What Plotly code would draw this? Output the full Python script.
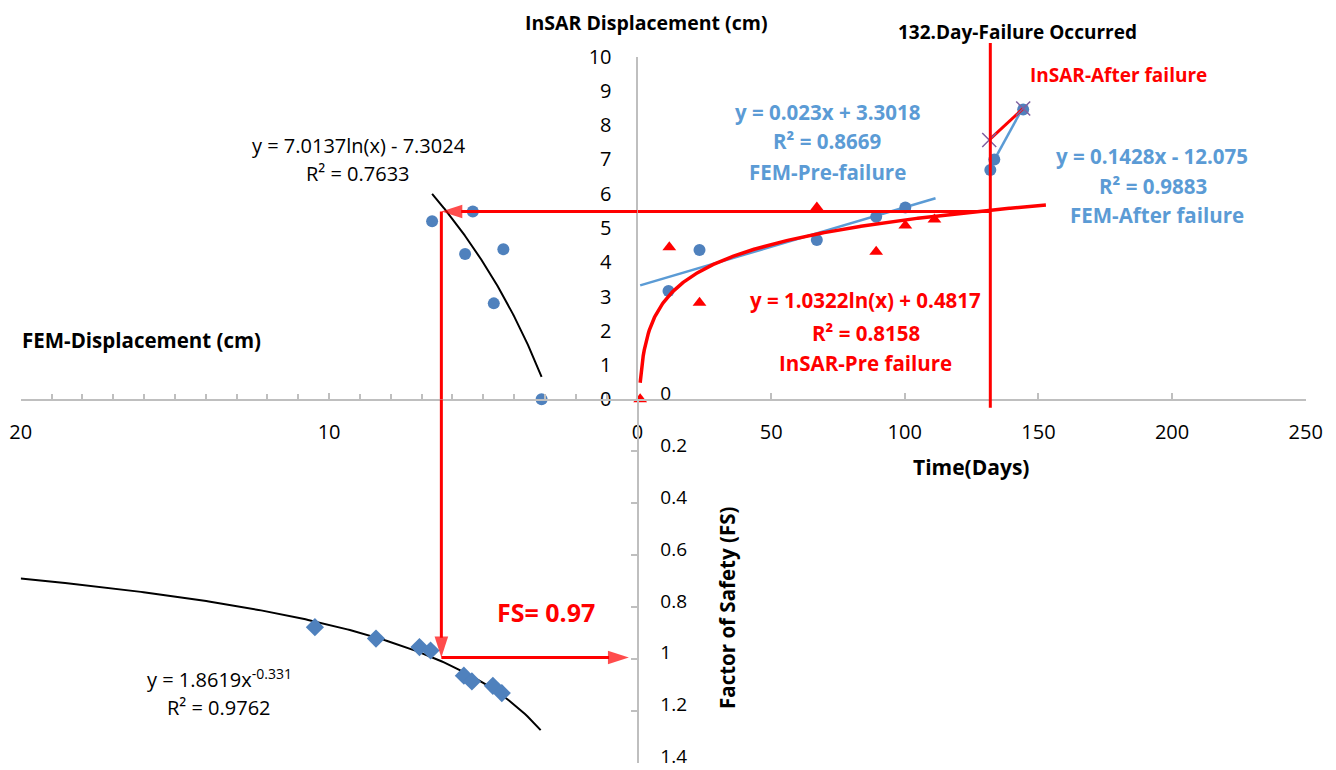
import numpy as np
import plotly.graph_objects as go

W, H = 1336, 770

# ---------------- data ----------------
# Top-left panel: FEM displacement (cm, left axis) vs InSAR displacement (cm)
fem_disp_cm = [6.66, 5.34, 5.59, 4.35, 4.66, 3.11]
insar_disp_cm = [5.20, 5.48, 4.24, 4.38, 2.80, 0.0]

# Bottom-left panel: FEM displacement (cm) vs Factor of Safety
fs_disp_cm = [10.46, 8.48, 7.07, 6.71, 5.63, 5.37, 4.69, 4.40]
fs_values = [0.878, 0.922, 0.955, 0.968, 1.065, 1.087, 1.104, 1.132]

# Right panel: time series (days vs displacement cm)
fem_pre_days = [11.6, 23.2, 67.1, 89.3, 100.2]
fem_pre_disp = [3.16, 4.36, 4.65, 5.33, 5.60]
insar_pre_days = [1, 11.9, 23.2, 67.1, 89.3, 100.2, 111.1]
insar_pre_disp = [0.0, 4.44, 2.82, 5.60, 4.31, 5.07, 5.25]
fem_after_days = [132.0, 133.5, 144.3]
fem_after_disp = [6.69, 7.00, 8.46]
insar_after_days = [131.6, 144.3]
insar_after_disp = [7.57, 8.49]

failure_day = 132
target_disp = 5.48      # displacement at failure day
target_fem_cm = 6.36    # FEM displacement matching it
target_fs = 0.995       # arrow level on FS axis
fs_arrow_end_cm = 0.28

# trendline coefficients (equations printed on the chart)
fem_log_a, fem_log_b = 7.0137, -7.3024
fs_pow_a, fs_pow_b = 1.8619, -0.331
fem_lin_a, fem_lin_b = 0.023, 3.3018
fem_after_a, fem_after_b = 0.1428, -12.075
insar_log_a, insar_log_b = 1.0322, 0.4817
# drawn x-extent of each trendline
fem_log_span = [3.11, 6.66]
fs_pow_span = [3.14, 20]
fem_lin_span = [1, 111.5]
insar_log_span = [1, 152.8]
fem_after_span = [132.0, 144.3]

x_right_ticks = [0, 50, 100, 150, 200, 250]
x_left_ticks = [20, 10]          # the shared "0" is drawn by the right axis
y_top_ticks = list(range(0, 11))
y_fs_ticks = [0, 0.2, 0.4, 0.6, 0.8, 1, 1.2, 1.4]

# ---------------- styles ----------------
FONT = "Open Sans"
AX = "#BFBFBF"
BLUE_PT = "#4F81BD"
BLUE_TXT = "#5B9BD5"
RED = "#FF0000"

fig = go.Figure()

def curve(span, f, n=200):
    xs = np.linspace(span[0], span[1], n)
    return xs, f(xs)

# trendlines
xs, ys = curve(fem_log_span, lambda x: fem_log_a * np.log(x) + fem_log_b)
fig.add_trace(go.Scatter(x=xs, y=ys, xaxis="x2", yaxis="y", mode="lines",
                         line=dict(color="black", width=2)))
xs, ys = curve(fs_pow_span, lambda x: fs_pow_a * np.power(x, fs_pow_b))
fig.add_trace(go.Scatter(x=xs, y=ys, xaxis="x2", yaxis="y2", mode="lines",
                         line=dict(color="black", width=2)))
xs, ys = curve(fem_lin_span, lambda x: fem_lin_a * x + fem_lin_b)
fig.add_trace(go.Scatter(x=xs, y=ys, xaxis="x", yaxis="y", mode="lines",
                         line=dict(color=BLUE_TXT, width=2.5)))
xs, ys = curve(fem_after_span, lambda x: fem_after_a * x + fem_after_b)
fig.add_trace(go.Scatter(x=xs, y=ys, xaxis="x", yaxis="y", mode="lines",
                         line=dict(color=BLUE_TXT, width=2.5)))

# markers
fig.add_trace(go.Scatter(x=fem_disp_cm, y=insar_disp_cm, xaxis="x2", yaxis="y",
                         mode="markers", cliponaxis=False,
                         marker=dict(color=BLUE_PT, size=12, symbol="circle")))
fig.add_trace(go.Scatter(x=fs_disp_cm, y=fs_values, xaxis="x2", yaxis="y2",
                         mode="markers", cliponaxis=False,
                         marker=dict(color=BLUE_PT, size=14, symbol="diamond")))
fig.add_trace(go.Scatter(x=fem_pre_days, y=fem_pre_disp, xaxis="x", yaxis="y",
                         mode="markers", marker=dict(color=BLUE_PT, size=12)))
fig.add_trace(go.Scatter(x=fem_after_days, y=fem_after_disp, xaxis="x", yaxis="y",
                         mode="markers", marker=dict(color=BLUE_PT, size=12)))
fig.add_trace(go.Scatter(x=insar_pre_days, y=insar_pre_disp, xaxis="x", yaxis="y",
                         mode="markers", cliponaxis=False,
                         marker=dict(color=RED, size=12, symbol="triangle-up")))
fig.add_trace(go.Scatter(x=insar_after_days, y=insar_after_disp, xaxis="x", yaxis="y",
                         mode="lines+markers",
                         line=dict(color=RED, width=3),
                         marker=dict(color="#7F60A0", size=14, symbol="x-thin-open",
                                     line=dict(color="#7F60A0", width=1.5))))

# red log trendline (on top)
xs, ys = curve(insar_log_span, lambda x: insar_log_a * np.log(x) + insar_log_b, 400)
fig.add_trace(go.Scatter(x=xs, y=ys, xaxis="x", yaxis="y", mode="lines",
                         line=dict(color=RED, width=3.5)))

# red guide path: failure level -> FEM curve -> FS axis (arrowheads as markers)
def guide(xv, yv, xa, ya, arrow=False):
    kw = dict(x=xv, y=yv, xaxis=xa, yaxis=ya, line=dict(color=RED, width=3), cliponaxis=False)
    if arrow:
        kw.update(mode="lines+markers",
                  marker=dict(symbol=["circle", "arrow"], size=[0, 22], color=RED,
                              angleref="previous", line=dict(width=0)))
    else:
        kw.update(mode="lines")
    fig.add_trace(go.Scatter(**kw))

guide([0, failure_day], [target_disp, target_disp], "x", "y")
guide([0, target_fem_cm], [target_disp, target_disp], "x2", "y", arrow=True)
guide([target_fem_cm, target_fem_cm], [target_disp, 0], "x2", "y")
guide([target_fem_cm, target_fem_cm], [0, target_fs], "x2", "y2", arrow=True)
guide([target_fem_cm, fs_arrow_end_cm], [target_fs, target_fs], "x2", "y2", arrow=True)

# failure day vertical line
fig.add_shape(type="line", xref="x", yref="y domain", x0=failure_day, x1=failure_day,
              y0=-0.025, y1=1.04, line=dict(color=RED, width=3))

annotations = []

def txt(s, xpx, ypx, color="black", size=20, bold=False, angle=0):
    t = f"<b>{s}</b>" if bold else s
    annotations.append(dict(text=t, x=xpx / W, y=1 - ypx / H, xref="paper", yref="paper",
                            xanchor="center", yanchor="middle", showarrow=False,
                            textangle=angle, font=dict(family=FONT, size=size, color=color)))

txt("InSAR Displacement (cm)", 646, 22, bold=True, size=19.5)
txt("132.Day-Failure Occurred", 1017, 32, bold=True, size=19)
txt("InSAR-After failure", 1118, 75, RED, bold=True, size=19)
txt("y = 0.023x + 3.3018", 828, 112, BLUE_TXT, bold=True, size=20.5)
txt("R² = 0.8669", 827, 141, BLUE_TXT, bold=True, size=20.5)
txt("FEM-Pre-failure", 828, 172, BLUE_TXT, bold=True, size=20.5)
txt("y = 0.1428x - 12.075", 1152, 156, BLUE_TXT, bold=True, size=20.5)
txt("R² = 0.9883", 1153, 186, BLUE_TXT, bold=True, size=20.5)
txt("FEM-After failure", 1157, 215, BLUE_TXT, bold=True, size=20.5)
txt("y = 1.0322ln(x) + 0.4817", 865, 300, RED, bold=True, size=20.5)
txt("R² = 0.8158", 866, 333, RED, bold=True, size=20.5)
txt("InSAR-Pre failure", 865, 363, RED, bold=True, size=20.5)
txt("y = 7.0137ln(x) - 7.3024", 359, 146, size=20)
txt("R² = 0.7633", 358, 174, size=20)
txt("FEM-Displacement (cm)", 141, 340, bold=True, size=20.5)
txt("Time(Days)", 971, 467, bold=True, size=21)
txt("Factor of Safety (FS)", 727, 608, bold=True, size=20.5, angle=-90)
txt("FS= 0.97", 546, 612, RED, bold=True, size=25)
txt("y = 1.8619x<sup>-0.331</sup>", 219, 678, size=20)
txt("R² = 0.9762", 219, 707, size=20)

ox = 637.5 / W
oy = 1 - 399.3 / H
tickfont = dict(family=FONT, size=20, color="black")
common = dict(showgrid=False, zeroline=False, showline=True, linecolor=AX, linewidth=2,
              tickcolor=AX, tickwidth=1.5, automargin=False,
              ticklabeloverflow="allow")

fig.update_layout(
    width=W, height=H, margin=dict(l=0, r=0, t=0, b=0, pad=0, autoexpand=False),
    paper_bgcolor="white", plot_bgcolor="white", showlegend=False,
    font=dict(family=FONT),
    xaxis=dict(domain=[ox, 1305.7 / W], range=[0, 250], anchor="y",
               tickmode="array", tickvals=x_right_ticks, tickfont=tickfont,
               ticks="inside", ticklen=6, ticklabelstandoff=14, **common),
    xaxis2=dict(domain=[20.7 / W, ox], range=[20, 0], anchor="y",
                tickmode="array", tickvals=x_left_ticks, tickfont=tickfont,
                ticks="inside", ticklen=6, ticklabelstandoff=14,
                minor=dict(tickmode="array", tickvals=list(range(0, 21)), ticks="inside",
                           ticklen=5, tickcolor=AX, showgrid=False),
                **common),
    yaxis=dict(domain=[oy, 1 - 56.7 / H], range=[0, 10], anchor="x",
               tickmode="array", tickvals=y_top_ticks, tickfont=tickfont,
               ticks="", ticklabelstandoff=20, **common),
    yaxis2=dict(domain=[1 - 762.6 / H, oy], range=[1.4, 0], anchor="free", position=ox,
                side="right", tickmode="array", tickvals=y_fs_ticks,
                tickfont=dict(family=FONT, size=19, color="black"),
                ticks="inside", ticklen=6, ticklabelstandoff=18, ticklabelshift=6, **common),
    annotations=annotations,
)

fig.write_html("out.html")
